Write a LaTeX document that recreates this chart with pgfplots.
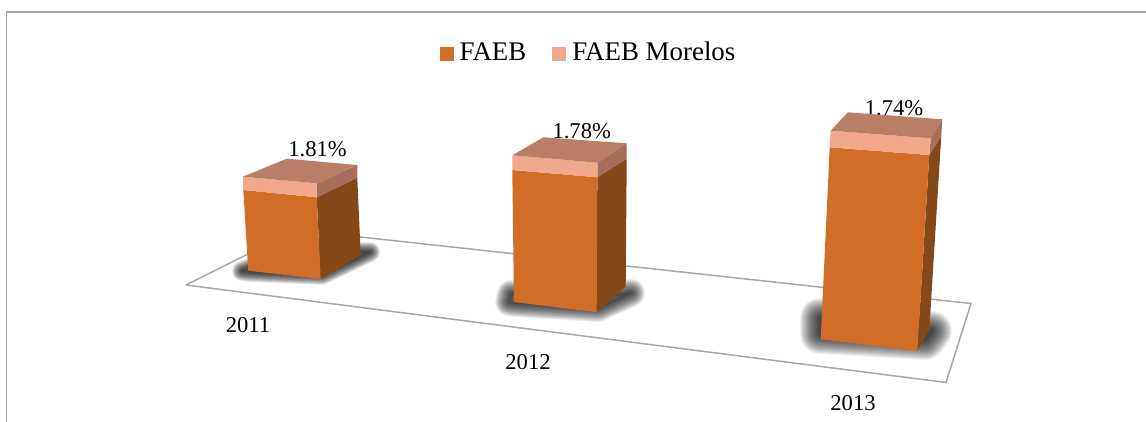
\documentclass[border=0pt]{standalone}
\usepackage{fontspec}
\setmainfont{Liberation Serif}
\usepackage{pgfplots}
\pgfplotsset{compat=1.18}

\definecolor{faeb}{HTML}{D26D28}
\definecolor{faebside}{HTML}{854819}
\definecolor{morelos}{HTML}{F2A88B}
\definecolor{moreloside}{HTML}{A56F5B}
\definecolor{moretop}{HTML}{B87E66}
\definecolor{edge}{HTML}{A6A6A6}

\pgfplotsset{
  face/.style={fill=#1, draw=none, no markers, forget plot},
  shadow/.style={draw=black, line width=#1, line join=round, line cap=round, opacity=0.06, no markers, forget plot}
}

\begin{document}
\begin{tikzpicture}
\begin{axis}[
  width=1146bp, height=422bp, scale only axis,
  xmin=0, xmax=1146, ymin=0, ymax=422, y dir=reverse,
  axis lines=none, clip=true,
  legend style={at={(0.5135,0.873)}, anchor=center, draw=none, fill=none,
    font=\fontsize{26.9bp}{30bp}\selectfont, legend columns=2,
    nodes={text height=18bp, text depth=4bp},
    /tikz/every even column/.append style={column sep=24bp}},
  legend image code/.code={\fill[#1] (0bp,-7bp) rectangle (14bp,7bp); \path (18bp,0bp);},
]
\path (rel axis cs:0,0) rectangle (rel axis cs:1,1);
% frame
\addplot[edge, line width=1.8bp, forget plot] coordinates {(6.5,430) (6.5,12) (1150,12)};
% floor
\addplot[fill=white, draw=edge, line width=1.5bp, forget plot] coordinates {(186,285) (296,230) (971,303.5) (946,382.5) (186,285)};

% data labels, behind the bars
\node[anchor=base, font=\fontsize{22.6bp}{26bp}\selectfont] at (axis cs:317.5,156.7) {1.81\%};
\node[anchor=base, font=\fontsize{22.6bp}{26bp}\selectfont] at (axis cs:581.7,138) {1.78\%};
\node[anchor=base, font=\fontsize{22.6bp}{26bp}\selectfont] at (axis cs:894,115.7) {1.74\%};
% category labels
\node[anchor=base, font=\fontsize{22.6bp}{26bp}\selectfont] at (axis cs:248,332) {2011};
\node[anchor=base, font=\fontsize{22.6bp}{26bp}\selectfont] at (axis cs:528,369) {2012};
\node[anchor=base, font=\fontsize{22.6bp}{26bp}\selectfont] at (axis cs:853,410) {2013};

% shadows
\pgfplotsinvokeforeach{20bp,19bp,18bp,17bp,16bp,15bp,14bp,13bp,12bp,11bp,10bp,9bp,8bp,7bp,6bp,5bp,4bp,3bp,2bp,1bp}{
  \addplot[shadow=#1] coordinates {(242,271) (250,268) (300,252) (370,252) (322,275) (250,272) (242,271)};
}
\pgfplotsinvokeforeach{28bp,26.5bp,25bp,23.5bp,22bp,20.5bp,19bp,17.5bp,16bp,14.5bp,13bp,11.5bp,10bp,8.5bp,7bp,5.5bp,4bp,2.5bp,1bp}{
  \addplot[shadow=#1] coordinates {(509,302) (511,294) (620,295) (631,293) (598,308) (514,303) (509,302)};
}
\pgfplotsinvokeforeach{40bp,38bp,36bp,34bp,32bp,30bp,28bp,26bp,24bp,22bp,20bp,18bp,16bp,14bp,12bp,10bp,8bp,6bp,4bp,2bp}{
  \addplot[shadow=#1] coordinates {(820,318) (932,331) (925,340) (820,334) (820,318)};
}

% 2011
\addplot[face=faebside] coordinates {(316.7,197.3) (357.3,177.7) (360.7,255) (320.7,279) (316.7,197.3)};
\addplot[face=faeb] coordinates {(243.3,190) (316.7,197.3) (320.7,279) (248.3,270.7) (243.3,190)};
\addplot[face=moreloside] coordinates {(316.7,183.3) (357.3,165) (357.3,177.7) (316.7,197.3) (316.7,183.3)};
\addplot[face=morelos] coordinates {(242.7,176.7) (316.7,183.3) (316.7,197.3) (243.3,190) (242.7,176.7)};
\addplot[face=moretop] coordinates {(242.7,176.7) (286.7,158.7) (357.3,165) (316.7,183.3) (242.7,176.7)};
% 2012
\addplot[face=faebside] coordinates {(597.3,177.3) (626.7,158.7) (625.7,286.7) (596.7,312.3) (597.3,177.3)};
\addplot[face=faeb] coordinates {(512.3,170) (597.3,177.3) (596.7,312.3) (514,302) (512.3,170)};
\addplot[face=moreloside] coordinates {(597.3,162.7) (626.7,143.3) (626.7,158.7) (597.3,177.3) (597.3,162.7)};
\addplot[face=morelos] coordinates {(512.3,155.3) (597.3,162.7) (597.3,177.3) (512.3,170) (512.3,155.3)};
\addplot[face=moretop] coordinates {(512.3,155.3) (543.3,137.3) (626.7,143.3) (597.3,162.7) (512.3,155.3)};
% 2013
\addplot[face=faebside] coordinates {(929.3,155) (941.3,135.7) (929.3,330) (917.3,351) (929.3,155)};
\addplot[face=faeb] coordinates {(829.7,147.3) (929.3,155) (917.3,351) (820.7,339.3) (829.7,147.3)};
\addplot[face=moreloside] coordinates {(930.7,138.3) (942.3,119.3) (941.3,135.7) (929.3,155) (930.7,138.3)};
\addplot[face=morelos] coordinates {(830.7,130.7) (930.7,138.3) (929.3,155) (829.7,147.3) (830.7,130.7)};
\addplot[face=moretop] coordinates {(830.7,130.7) (847.7,112.3) (942.3,119.3) (930.7,138.3) (830.7,130.7)};

% legend
\addplot[fill=faeb, draw=none, no markers] coordinates {(-10,-10)};
\addlegendentry{FAEB}
\addplot[fill=morelos, draw=none, no markers] coordinates {(-10,-10)};
\addlegendentry{FAEB Morelos}
\end{axis}
\end{tikzpicture}
\end{document}
